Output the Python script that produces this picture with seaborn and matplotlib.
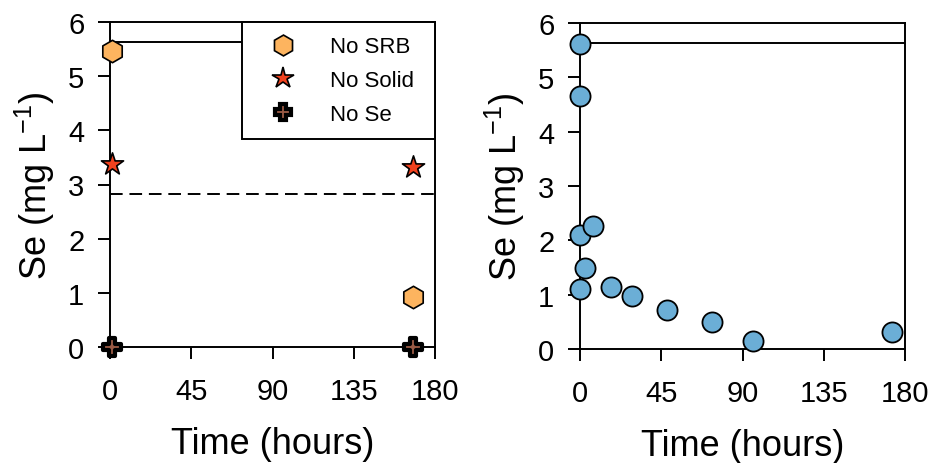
import matplotlib
matplotlib.use("Agg")
import matplotlib.pyplot as plt
import seaborn as sns
import pandas as pd
from matplotlib.lines import Line2D

# ---- data ----
left_time = [1, 168]
no_srb = [5.47, 0.92]
no_solid = [3.37, 3.33]
no_se = [0.0, 0.0]
left_solid_ref = 5.63
left_dashed_ref = 2.82

right_time = [0, 0, 0, 0, 3, 7, 17, 29, 48, 73, 96, 173]
right_se = [5.61, 4.65, 2.10, 1.10, 1.50, 2.26, 1.14, 0.98, 0.71, 0.50, 0.15, 0.31]
right_solid_ref = 5.63

x_ticks = [0, 45, 90, 135, 180]
y_ticks = [0, 1, 2, 3, 4, 5, 6]
series_labels = ["No SRB", "No Solid", "No Se"]

sns.set_theme(style="ticks")
plt.rcParams["font.family"] = ["Liberation Sans", "DejaVu Sans"]
plt.rcParams["mathtext.fontset"] = "custom"
plt.rcParams["mathtext.rm"] = "Liberation Sans"
plt.rcParams["mathtext.it"] = "Liberation Sans:italic"
plt.rcParams["text.color"] = "black"
plt.rcParams["axes.labelcolor"] = "black"

fig = plt.figure(figsize=(9.33, 4.64), dpi=100)
axL = fig.add_axes([110/933, 1-348/464, 325/933, 325/464])
axR = fig.add_axes([580/933, 1-350/464, 325/933, 326/464])

c_srb = "#FDB45F"
c_solid = "#F2421E"
c_se = "#9A5A44"
c_blue = "#6BAED6"

left_df = pd.DataFrame({
    "time": left_time * 3,
    "se": no_srb + no_solid + no_se,
    "group": [series_labels[0]] * 2 + [series_labels[1]] * 2 + [series_labels[2]] * 2,
})

axL.axhline(left_solid_ref, color="black", lw=1.4, zorder=1)
axL.axhline(left_dashed_ref, color="black", lw=1.4, ls=(0, (6.5, 3.5)), zorder=1)

styles = {
    "No SRB": dict(marker="h", s=260, color=c_srb, edgecolor="black", linewidth=1.2),
    "No Solid": dict(marker="*", s=280, color=c_solid, edgecolor="black", linewidth=1.2),
    "No Se": dict(marker="P", s=150, color=c_se, edgecolor="black", linewidth=3.0),
}
for g in series_labels:
    sub = left_df[left_df["group"] == g]
    sns.scatterplot(data=sub, x="time", y="se", ax=axL, legend=False,
                    zorder=5, clip_on=False, **styles[g])

handles = [
    Line2D([], [], ls="none", marker="h", markersize=15, markerfacecolor=c_srb,
           markeredgecolor="black", markeredgewidth=1.2),
    Line2D([], [], ls="none", marker="*", markersize=16, markerfacecolor=c_solid,
           markeredgecolor="black", markeredgewidth=1.2),
    Line2D([], [], ls="none", marker="P", markersize=11, markerfacecolor=c_se,
           markeredgecolor="black", markeredgewidth=3.0),
]
leg = axL.legend(handles, series_labels, loc="upper left",
                 bbox_to_anchor=(0.406, 1.0, 0.594, 0.0), mode="expand",
                 borderaxespad=0, fontsize=16, frameon=True, fancybox=False,
                 borderpad=0.65, labelspacing=0.57, handlelength=2.4,
                 handletextpad=0.9)
leg.get_frame().set_edgecolor("black")
leg.get_frame().set_linewidth(1.4)
leg.get_frame().set_alpha(1)
leg.set_zorder(10)

right_df = pd.DataFrame({"time": right_time, "se": right_se})
axR.axhline(right_solid_ref, color="black", lw=1.4, zorder=1)
sns.scatterplot(data=right_df, x="time", y="se", ax=axR, s=210, color=c_blue,
                edgecolor="black", linewidth=1.3, zorder=5, clip_on=False, legend=False)

for ax in (axL, axR):
    ax.set_xlim(0, 180)
    ax.set_ylim(0, 6)
    ax.set_xticks(x_ticks)
    ax.set_yticks(y_ticks)
    ax.tick_params(direction="out", length=8.5, width=1.4, labelsize=21,
                   colors="black")
    ax.tick_params(axis="y", pad=10)
    ax.tick_params(axis="x", pad=13)
    for sp in ax.spines.values():
        sp.set_visible(True)
        sp.set_linewidth(1.4)
        sp.set_color("black")
    ax.set_xlabel("Time (hours)", fontsize=26, labelpad=15)
    ax.set_ylabel("Se (mg L$^{\\mathregular{-1}}$)", fontsize=26, labelpad=8)
    ax.set_facecolor("white")

fig.savefig("out.png", dpi=100, facecolor="white")
